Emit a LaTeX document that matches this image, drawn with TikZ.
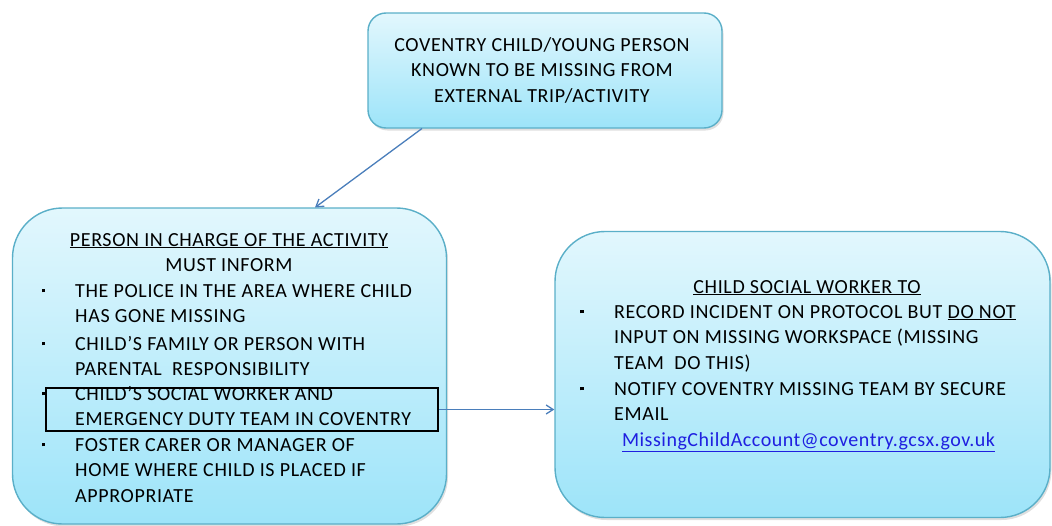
\documentclass[tikz,border=0pt]{standalone}
\usepackage{fontspec}
\setmainfont{Carlito}[LetterSpace=3.2]
\newfontfamily\emailfont{Carlito}[LetterSpace=2.6]
\usetikzlibrary{arrows.meta,shadows}
\definecolor{boxtop}{HTML}{E2F7FD}
\definecolor{boxbot}{HTML}{9DE4F9}
\definecolor{boxline}{HTML}{5AAFC8}
\definecolor{arrowblue}{HTML}{4A7EBB}
\definecolor{linkblue}{HTML}{1F1FE0}
\begin{document}
\begin{tikzpicture}[x=1pt,y=-1pt,
  flowbox/.style={draw=boxline, line width=1.4pt, top color=boxtop, bottom color=boxbot,
    drop shadow={opacity=0.25, shadow xshift=1.5pt, shadow yshift=-2.5pt}},
  txt/.style={inner sep=0pt, font=\fontsize{20}{25.5}\selectfont},
  bullet/.style={inner sep=0pt},
  conn/.style={draw=arrowblue, line width=1.3pt, -{Straight Barb[length=7pt,width=9pt]}}
]
\useasboundingbox (0,0) rectangle (1052,525);
% boxes
\node[flowbox, rounded corners=18pt, minimum width=354pt, minimum height=115pt] (top) at (545,70.5) {};
\node[flowbox, rounded corners=50pt, minimum width=434pt, minimum height=316pt] (left) at (229.5,366) {};
\node[flowbox, rounded corners=50pt, minimum width=495pt, minimum height=286pt] (right) at (802.5,374.5) {};

% top text (base = last line)
\node[txt, align=center, anchor=base] (toptext) at (542,102) {COVENTRY CHILD/YOUNG PERSON\\KNOWN TO BE MISSING FROM\\EXTERNAL TRIP/ACTIVITY};

% left text
\node[txt, anchor=base] (lhead) at (229,246) {\underline{PERSON IN CHARGE OF THE ACTIVITY}};
\node[txt, anchor=base] (lmust) at (229,271.5) {MUST INFORM};
\node[txt, anchor=base west, align=left] (l1) at (75,322.5) {THE POLICE IN THE AREA WHERE CHILD\\HAS GONE MISSING};
\node[txt, anchor=base west, align=left] (l2) at (75,375.5) {CHILD'S FAMILY OR PERSON WITH\\PARENTAL\ \ RESPONSIBILITY};
\node[txt, anchor=base west, align=left] (l3) at (75,425.5) {CHILD'S SOCIAL WORKER AND\\EMERGENCY DUTY TEAM IN COVENTRY};
\node[txt, anchor=base west, align=left] (l4) at (75,502) {FOSTER CARER OR MANAGER OF\\HOME WHERE CHILD IS PLACED IF\\APPROPRIATE};
\node[bullet] (b1) at (43.5,290.5) {\rule{3.5pt}{3.5pt}};
\node[bullet] (b2) at (43.5,343.5) {\rule{3.5pt}{3.5pt}};
\node[bullet] (b3) at (43.5,393.5) {\rule{3.5pt}{3.5pt}};
\node[bullet] (b4) at (43.5,444.5) {\rule{3.5pt}{3.5pt}};
\node[draw=black, line width=1.5pt, minimum width=392pt, minimum height=43pt, inner sep=0pt] (hl) at (242,409.5) {};

% right text
\node[txt, anchor=base] (rhead) at (807,293) {\underline{CHILD SOCIAL WORKER TO}};
\node[txt, anchor=base west, align=left] (r1) at (614,369) {RECORD INCIDENT ON PROTOCOL BUT \underline{DO NOT}\\INPUT ON MISSING WORKSPACE (MISSING\\TEAM\ \ DO THIS)};
\node[txt, anchor=base west, align=left] (r2) at (614,420.5) {NOTIFY COVENTRY MISSING TEAM BY SECURE\\EMAIL};
\node[txt, anchor=base] (email) at (808.5,446.5) {\emailfont\color{linkblue}\underline{MissingChildAccount@coventry.gcsx.gov.uk}};
\node[bullet] (rb1) at (582,311.5) {\rule{3.5pt}{3.5pt}};
\node[bullet] (rb2) at (582,388.5) {\rule{3.5pt}{3.5pt}};

% connectors
\draw[conn] (422,128.5) -- (315,207.5);
\draw[conn] (hl.east) -- (hl.east -| right.west);
\end{tikzpicture}
\end{document}
